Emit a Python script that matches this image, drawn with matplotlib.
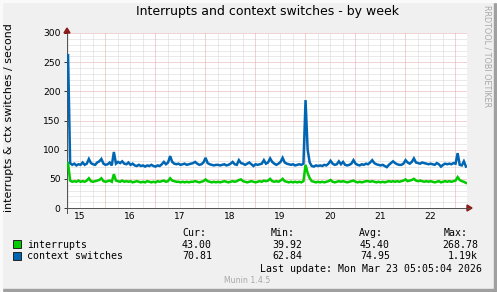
import matplotlib
matplotlib.use('Agg')
import matplotlib.pyplot as plt
from matplotlib.patches import Rectangle
import numpy as np

# hourly averages, 8 days, starting Mar 15 ~05:45
interrupts = [
    77, 47, 45, 46, 45, 47, 45, 46, 45, 47, 51, 46, 45, 46, 47, 48, 51, 46, 45, 46, 47, 45, 58, 47,
    46, 45, 47, 45, 46, 45, 46, 44, 45, 46, 45, 44, 45, 44, 46, 45, 44, 45, 44, 46, 45, 46, 47, 45,
    46, 51, 47, 46, 45, 45, 44, 45, 44, 45, 44, 45, 45, 46, 45, 44, 45, 46, 49, 46, 45, 44, 45, 44,
    45, 44, 45, 46, 45, 44, 45, 46, 45, 46, 48, 49, 46, 45, 44, 45, 46, 45, 44, 45, 46, 45, 47, 46,
    47, 50, 46, 45, 46, 45, 47, 50, 46, 45, 44, 45, 44, 45, 44, 45, 44, 46, 74, 60, 51, 46, 45, 44,
    45, 44, 45, 44, 45, 46, 48, 45, 44, 45, 46, 45, 46, 45, 44, 45, 46, 47, 45, 44, 45, 44, 45, 46,
    46, 45, 46, 45, 44, 45, 44, 45, 44, 45, 46, 45, 46, 45, 46, 45, 46, 47, 49, 46, 47, 48, 50, 47,
    46, 47, 46, 45, 46, 45, 46, 45, 44, 45, 46, 44, 45, 46, 45, 46, 45, 46, 47, 53, 48, 46, 45, 43,
]
ctx_switches = [
    262, 77, 74, 76, 73, 75, 74, 78, 74, 76, 84, 77, 75, 74, 78, 80, 84, 76, 74, 75, 78, 73, 96, 76,
    79, 77, 80, 76, 75, 78, 74, 76, 73, 72, 74, 72, 73, 71, 73, 72, 74, 72, 71, 73, 72, 75, 79, 75,
    78, 89, 79, 76, 75, 76, 74, 75, 76, 74, 75, 76, 77, 79, 76, 74, 75, 78, 86, 77, 75, 74, 73, 74,
    74, 73, 74, 75, 73, 74, 76, 79, 75, 74, 82, 77, 76, 74, 76, 78, 75, 72, 75, 74, 75, 76, 82, 76,
    78, 85, 79, 76, 74, 76, 79, 86, 78, 76, 75, 74, 75, 73, 74, 75, 74, 76, 185, 100, 78, 72, 71, 73,
    72, 73, 72, 74, 73, 76, 81, 76, 74, 75, 80, 75, 79, 74, 73, 74, 76, 82, 76, 74, 73, 75, 74, 76,
    75, 78, 82, 77, 75, 74, 73, 74, 72, 70, 74, 77, 80, 77, 75, 74, 74, 76, 82, 78, 76, 79, 85, 78,
    77, 76, 78, 77, 76, 75, 76, 75, 74, 77, 75, 71, 74, 76, 75, 76, 75, 77, 76, 94, 74, 73, 80, 71,
]
day_labels = ['15', '16', '17', '18', '19', '20', '21', '22']
legend_names = ['interrupts', 'context switches']
legend_colors = ['#00CC00', '#0066B3']
cur = ['43.00', '70.81']
mins = ['39.92', '62.84']
avgs = ['45.40', '74.95']
maxs = ['268.78', '1.19k']

W, H = 497, 292
start = 15 + 5.75 / 24  # day-of-month
t = start + (np.arange(len(interrupts)) + 0.5) / 24


def fx(x):
    return x / W


def fy(y):
    return 1 - y / H


fig = plt.figure(figsize=(W / 100, H / 100), dpi=100, facecolor='#F0F0F0')
ax = fig.add_axes([fx(67), fy(208), 400 / W, 175 / H])
ax.set_facecolor('white')

# grid
for v in range(0, 301, 10):
    c = '#e4a8a8' if v % 50 == 0 else '#d4d4d4'
    ax.axhline(v, color=c, lw=0.72, ls=(0, (1, 1)), zorder=1)
for k in range(33):
    d = 15 + k * 0.25
    if d <= start:
        continue
    c = '#e4a8a8' if k % 4 == 0 else '#d4d4d4'
    ax.axvline(d, color=c, lw=0.72, ls=(0, (1, 1)), zorder=1)

ax.plot(t, interrupts, color=legend_colors[0], lw=1.8, zorder=3, solid_joinstyle='miter')
ax.plot(t, ctx_switches, color=legend_colors[1], lw=1.8, zorder=4, solid_joinstyle='miter')

ax.set_xlim(start, start + 8)
ax.set_ylim(0, 300)
ax.set_yticks(range(0, 301, 50))
ax.set_xticks([15.5 + i for i in range(len(day_labels))])
ax.set_xticklabels(day_labels)
ax.tick_params(axis='y', length=2.2, width=0.7, pad=2.5, labelsize=6.6, color='#333333')
ax.tick_params(axis='x', length=0, pad=3, labelsize=6.6)
for s in ['top', 'right']:
    ax.spines[s].set_visible(False)
for s in ['left', 'bottom']:
    ax.spines[s].set_color('#555555')
    ax.spines[s].set_linewidth(0.72)
ax.spines['left'].set_bounds(-8, 305)

# arrows on axes
fig.patches.append(plt.Polygon([[fx(64), fy(33)], [fx(70), fy(33)], [fx(67), fy(28)]],
                               closed=True, color='#8B1A1A', transform=fig.transFigure))
fig.patches.append(plt.Polygon([[fx(467), fy(205)], [fx(467), fy(211)], [fx(472), fy(208)]],
                               closed=True, color='#8B1A1A', transform=fig.transFigure))
fig.lines.append(plt.Line2D([fx(467), fx(469)], [fy(208), fy(208)], color='#555555', lw=0.72,
                            transform=fig.transFigure))

fig.text(fx(267), fy(12), 'Interrupts and context switches - by week', ha='center', va='center',
         fontsize=9)
fig.text(fx(9), fy(118), 'interrupts & ctx switches / second', rotation=90, ha='center',
         va='center', fontsize=7.9)
fig.text(fx(487), fy(5), 'RRDTOOL / TOBI OETIKER', rotation=270, ha='center', va='top',
         fontsize=5.8, color='#a8a8a8')

mono = 'DejaVu Sans Mono'
fs = 7.1
fig.text(fx(182), fy(236), 'Cur:', family=mono, fontsize=fs)
fig.text(fx(271), fy(236), 'Min:', family=mono, fontsize=fs)
fig.text(fx(359), fy(236), 'Avg:', family=mono, fontsize=fs)
fig.text(fx(468), fy(236), 'Max:', family=mono, fontsize=fs, ha='right')
for i, name in enumerate(legend_names):
    yb = 247.7 + i * 11.7
    fig.patches.append(Rectangle((fx(13), fy(yb + 0.5)), 8 / W, 8 / H, facecolor=legend_colors[i],
                                 edgecolor='#222222', lw=0.7, transform=fig.transFigure))
    fig.text(fx(27), fy(yb), name, family=mono, fontsize=fs)
    fig.text(fx(212), fy(yb), cur[i], family=mono, fontsize=fs, ha='right')
    fig.text(fx(302), fy(yb), mins[i], family=mono, fontsize=fs, ha='right')
    fig.text(fx(390), fy(yb), avgs[i], family=mono, fontsize=fs, ha='right')
    fig.text(fx(478), fy(yb), maxs[i], family=mono, fontsize=fs, ha='right')
fig.text(fx(482), fy(271.7), 'Last update: Mon Mar 23 05:05:04 2026', family=mono, fontsize=fs,
         ha='right')
fig.text(fx(224), fy(283.3), 'Munin 1.4.5', fontsize=5.6, color='#a8a8a8')

# frame
fig.patches.append(Rectangle((fx(0), fy(292)), 1, 3 / H, color='#a0a0a0', transform=fig.transFigure))
fig.patches.append(Rectangle((fx(494), fy(292)), 3 / W, 1, color='#a0a0a0', transform=fig.transFigure))
fig.patches.append(Rectangle((0, fy(2)), 1, 2 / H, color='#fafafa', transform=fig.transFigure))
fig.patches.append(Rectangle((0, 0), 2 / W, 1, color='#fafafa', transform=fig.transFigure))

fig.savefig('out.png', dpi=100, facecolor=fig.get_facecolor())
